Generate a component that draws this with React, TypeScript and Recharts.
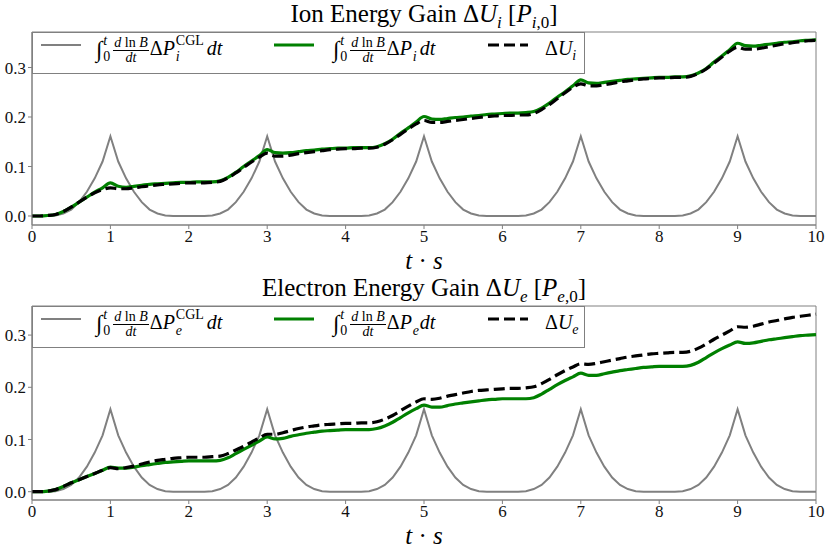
import React from "react";
import { LineChart, Line, XAxis, YAxis, ReferenceArea } from "recharts";

// time samples (t * s)
const times = [
  0, 0.1, 0.2, 0.3, 0.4, 0.5, 0.6, 0.7, 0.8, 0.9,
  1, 1.1, 1.2, 1.3, 1.4, 1.5, 1.6, 1.7, 1.8, 1.9,
  2, 2.1, 2.2, 2.3, 2.4, 2.5, 2.6, 2.7, 2.8, 2.9,
  3, 3.1, 3.2, 3.3, 3.4, 3.5, 3.6, 3.7, 3.8, 3.9,
  4, 4.1, 4.2, 4.3, 4.4, 4.5, 4.6, 4.7, 4.8, 4.9,
  5, 5.1, 5.2, 5.3, 5.4, 5.5, 5.6, 5.7, 5.8, 5.9,
  6, 6.1, 6.2, 6.3, 6.4, 6.5, 6.6, 6.7, 6.8, 6.9,
  7, 7.1, 7.2, 7.3, 7.4, 7.5, 7.6, 7.7, 7.8, 7.9,
  8, 8.1, 8.2, 8.3, 8.4, 8.5, 8.6, 8.7, 8.8, 8.9,
  9, 9.1, 9.2, 9.3, 9.4, 9.5, 9.6, 9.7, 9.8, 9.9,
  10,
];

// ion panel
const cglIon = [
  0, 0, 0, 0.001, 0.005, 0.013, 0.028, 0.049, 0.076, 0.11,
  0.161, 0.11, 0.076, 0.049, 0.028, 0.013, 0.005, 0.001, 0, 0,
  0, 0, 0, 0.001, 0.005, 0.013, 0.028, 0.049, 0.076, 0.11,
  0.161, 0.11, 0.076, 0.049, 0.028, 0.013, 0.005, 0.001, 0, 0,
  0, 0, 0, 0.001, 0.005, 0.013, 0.028, 0.049, 0.076, 0.11,
  0.161, 0.11, 0.076, 0.049, 0.028, 0.013, 0.005, 0.001, 0, 0,
  0, 0, 0, 0.001, 0.005, 0.013, 0.028, 0.049, 0.076, 0.11,
  0.161, 0.11, 0.076, 0.049, 0.028, 0.013, 0.005, 0.001, 0, 0,
  0, 0, 0, 0.001, 0.005, 0.013, 0.028, 0.049, 0.076, 0.11,
  0.161, 0.11, 0.076, 0.049, 0.028, 0.013, 0.005, 0.001, 0, 0,
  0,
];
const pIon = [
  0, 0, 0.001, 0.003, 0.009, 0.018, 0.028, 0.038, 0.048, 0.057,
  0.067, 0.06, 0.058, 0.06, 0.062, 0.064, 0.065, 0.066, 0.067, 0.068,
  0.068, 0.069, 0.069, 0.069, 0.071, 0.078, 0.088, 0.1, 0.111, 0.122,
  0.134, 0.128, 0.127, 0.128, 0.13, 0.132, 0.133, 0.135, 0.136, 0.137,
  0.137, 0.138, 0.138, 0.138, 0.14, 0.146, 0.155, 0.167, 0.178, 0.19,
  0.201, 0.196, 0.195, 0.197, 0.199, 0.2, 0.202, 0.203, 0.205, 0.206,
  0.207, 0.208, 0.208, 0.209, 0.211, 0.218, 0.228, 0.24, 0.251, 0.263,
  0.275, 0.269, 0.268, 0.27, 0.272, 0.274, 0.276, 0.277, 0.278, 0.279,
  0.28, 0.28, 0.281, 0.281, 0.283, 0.289, 0.298, 0.311, 0.323, 0.336,
  0.349, 0.344, 0.343, 0.345, 0.347, 0.349, 0.351, 0.352, 0.354, 0.355,
  0.356,
];
const uIon = [
  0, 0, 0.001, 0.003, 0.009, 0.018, 0.028, 0.038, 0.047, 0.053,
  0.057, 0.055, 0.055, 0.057, 0.059, 0.061, 0.063, 0.064, 0.065, 0.066,
  0.067, 0.067, 0.067, 0.068, 0.07, 0.077, 0.087, 0.098, 0.109, 0.119,
  0.127, 0.121, 0.121, 0.123, 0.126, 0.128, 0.13, 0.132, 0.134, 0.135,
  0.136, 0.136, 0.137, 0.137, 0.139, 0.145, 0.154, 0.165, 0.176, 0.186,
  0.193, 0.189, 0.189, 0.191, 0.193, 0.195, 0.197, 0.199, 0.201, 0.202,
  0.203, 0.203, 0.204, 0.204, 0.207, 0.215, 0.225, 0.237, 0.249, 0.26,
  0.267, 0.263, 0.263, 0.265, 0.268, 0.271, 0.273, 0.275, 0.277, 0.278,
  0.279, 0.279, 0.28, 0.28, 0.282, 0.288, 0.297, 0.309, 0.321, 0.333,
  0.341, 0.337, 0.337, 0.339, 0.342, 0.345, 0.348, 0.35, 0.352, 0.354,
  0.355,
];

// electron panel
const cglElectron = [
  0, 0, 0, 0.001, 0.005, 0.013, 0.027, 0.048, 0.075, 0.108,
  0.158, 0.108, 0.075, 0.048, 0.027, 0.013, 0.005, 0.001, 0, 0,
  0, 0, 0, 0.001, 0.005, 0.013, 0.027, 0.048, 0.075, 0.108,
  0.158, 0.108, 0.075, 0.048, 0.027, 0.013, 0.005, 0.001, 0, 0,
  0, 0, 0, 0.001, 0.005, 0.013, 0.027, 0.048, 0.075, 0.108,
  0.158, 0.108, 0.075, 0.048, 0.027, 0.013, 0.005, 0.001, 0, 0,
  0, 0, 0, 0.001, 0.005, 0.013, 0.027, 0.048, 0.075, 0.108,
  0.158, 0.108, 0.075, 0.048, 0.027, 0.013, 0.005, 0.001, 0, 0,
  0, 0, 0, 0.001, 0.005, 0.013, 0.027, 0.048, 0.075, 0.108,
  0.158, 0.108, 0.075, 0.048, 0.027, 0.013, 0.005, 0.001, 0, 0,
  0,
];
const pElectron = [
  0, 0, 0.001, 0.004, 0.01, 0.017, 0.023, 0.029, 0.035, 0.041,
  0.047, 0.045, 0.045, 0.047, 0.05, 0.052, 0.054, 0.056, 0.057, 0.058,
  0.059, 0.059, 0.059, 0.059, 0.06, 0.065, 0.073, 0.081, 0.089, 0.097,
  0.105, 0.101, 0.102, 0.106, 0.109, 0.112, 0.114, 0.116, 0.117, 0.118,
  0.119, 0.119, 0.119, 0.119, 0.121, 0.126, 0.133, 0.142, 0.151, 0.159,
  0.166, 0.162, 0.162, 0.165, 0.168, 0.17, 0.172, 0.174, 0.176, 0.177,
  0.178, 0.178, 0.178, 0.178, 0.18, 0.187, 0.196, 0.205, 0.213, 0.22,
  0.227, 0.223, 0.223, 0.226, 0.229, 0.232, 0.234, 0.236, 0.238, 0.239,
  0.24, 0.24, 0.24, 0.24, 0.242, 0.248, 0.257, 0.266, 0.274, 0.281,
  0.287, 0.284, 0.285, 0.288, 0.291, 0.293, 0.295, 0.297, 0.299, 0.3,
  0.301,
];
const uElectron = [
  0, 0, 0.001, 0.004, 0.01, 0.017, 0.023, 0.029, 0.035, 0.041,
  0.046, 0.044, 0.046, 0.049, 0.053, 0.057, 0.06, 0.062, 0.064, 0.065,
  0.066, 0.066, 0.066, 0.067, 0.068, 0.073, 0.08, 0.087, 0.095, 0.103,
  0.11, 0.11, 0.113, 0.117, 0.121, 0.124, 0.126, 0.128, 0.129, 0.13,
  0.131, 0.131, 0.132, 0.132, 0.134, 0.139, 0.146, 0.155, 0.164, 0.172,
  0.178, 0.177, 0.179, 0.183, 0.186, 0.189, 0.192, 0.194, 0.195, 0.196,
  0.197, 0.198, 0.198, 0.199, 0.201, 0.207, 0.215, 0.224, 0.232, 0.239,
  0.245, 0.244, 0.246, 0.249, 0.252, 0.255, 0.258, 0.26, 0.262, 0.264,
  0.265, 0.266, 0.267, 0.267, 0.269, 0.275, 0.283, 0.292, 0.3, 0.308,
  0.316, 0.315, 0.317, 0.321, 0.325, 0.328, 0.331, 0.334, 0.336, 0.338,
  0.34,
];

const xTicks = [0, 1, 2, 3, 4, 5, 6, 7, 8, 9, 10];
const yTicks = [0, 0.1, 0.2, 0.3];

const FONT = "'Liberation Serif', 'DejaVu Serif', serif";
const SPINE = "#808080";
const CGL_GRAY = "#808080";
const GREEN = "#008000";

const I = ({ children }: { children: React.ReactNode }) => (
  <span style={{ fontStyle: "italic" }}>{children}</span>
);

// a superscript stacked over a subscript, hung off the current baseline
const Scripts = ({
  sup,
  sub,
  width,
}: {
  sup: React.ReactNode;
  sub: React.ReactNode;
  width: number;
}) => (
  <span
    style={{
      position: "relative",
      display: "inline-block",
      width,
      height: 18,
      marginLeft: 1,
    }}
  >
    <span style={{ position: "absolute", left: 0, top: -3, fontSize: 14, lineHeight: "14px" }}>
      {sup}
    </span>
    <span style={{ position: "absolute", left: 0, top: 13, fontSize: 14, lineHeight: "14px" }}>
      {sub}
    </span>
  </span>
);

const Frac = ({ num, den }: { num: React.ReactNode; den: React.ReactNode }) => (
  <span
    style={{
      display: "inline-flex",
      flexDirection: "column",
      alignItems: "center",
      fontSize: 14,
      lineHeight: "12px",
      verticalAlign: 8,
      margin: "0 1px",
    }}
  >
    <span style={{ borderBottom: "1px solid #000", padding: "0 1px 1px" }}>{num}</span>
    <span style={{ paddingTop: 1 }}>{den}</span>
  </span>
);

const IntegralLabel = ({ species, cgl }: { species: string; cgl: boolean }) => (
  <span>
    <span style={{ fontSize: 23, verticalAlign: -2 }}>∫</span>
    <Scripts sup={<I>t</I>} sub="0" width={9} />
    <Frac
      num={
        <>
          <I>d</I> ln <I>B</I>
        </>
      }
      den={<I>dt</I>}
    />
    Δ<I>P</I>
    <Scripts sup={cgl ? "CGL" : ""} sub={<I>{species}</I>} width={cgl ? 31 : 7} />
    <I>dt</I>
  </span>
);

const Sample = ({ color, dash }: { color: string; dash?: string }) => (
  <svg width={42} height={8} style={{ position: "absolute", left: 0, top: -4 }}>
    <line
      x1={1}
      x2={41}
      y1={4}
      y2={4}
      stroke={color}
      strokeWidth={color === CGL_GRAY ? 2 : 3.2}
      strokeDasharray={dash}
    />
  </svg>
);

const XTick = (props: any) => (
  <text
    x={props.x}
    y={props.y}
    dy="0.66em"
    textAnchor="middle"
    fontFamily={FONT}
    fontSize={17}
    fill="#111"
  >
    {props.payload.value}
  </text>
);

const YTick = (props: any) => (
  <text
    x={props.x}
    y={props.y}
    dy="0.36em"
    textAnchor="end"
    fontFamily={FONT}
    fontSize={17}
    fill="#111"
  >
    {Number(props.payload.value).toFixed(1)}
  </text>
);

type PanelProps = {
  rows: { t: number; cgl: number; p: number; u: number }[];
  domain: [number, number];
  plotTop: number;
  plotBottom: number;
  title: React.ReactNode;
  titleSize: number;
  species: string;
};

const Panel = ({ rows, domain, plotTop, plotBottom, title, titleSize, species }: PanelProps) => {
  const labelStyle = {
    position: "absolute" as const,
    whiteSpace: "nowrap" as const,
    lineHeight: "24px",
  };
  return (
    <div style={{ position: "relative", width: 830, height: 276 }}>
      <LineChart
        width={830}
        height={276}
        data={rows}
        margin={{ top: plotTop, right: 14, bottom: 276 - plotBottom - 24, left: 2 }}
      >
        <XAxis
          dataKey="t"
          type="number"
          domain={[0, 10]}
          ticks={xTicks}
          height={24}
          stroke={SPINE}
          tickSize={4}
          tickMargin={2}
          tick={<XTick />}
        />
        <YAxis
          type="number"
          domain={domain}
          ticks={yTicks}
          allowDataOverflow
          width={30}
          stroke={SPINE}
          tickSize={4}
          tickMargin={2}
          tick={<YTick />}
        />
        <ReferenceArea
          x1={0}
          x2={10}
          y1={domain[0]}
          y2={domain[1]}
          fill="none"
          stroke={SPINE}
          strokeWidth={1}
          ifOverflow="visible"
        />
        <Line
          dataKey="cgl"
          type="linear"
          stroke={CGL_GRAY}
          strokeWidth={2}
          dot={false}
          isAnimationActive={false}
        />
        <Line
          dataKey="p"
          type="monotone"
          stroke={GREEN}
          strokeWidth={3.2}
          dot={false}
          isAnimationActive={false}
        />
        <Line
          dataKey="u"
          type="monotone"
          stroke="#000"
          strokeWidth={3.2}
          strokeDasharray="11 5"
          dot={false}
          isAnimationActive={false}
        />
      </LineChart>

      <div
        style={{
          position: "absolute",
          left: 32,
          width: 784,
          top: plotTop - 32,
          textAlign: "center",
          fontSize: titleSize,
          lineHeight: "28px",
        }}
      >
        {title}
      </div>

      <div
        style={{
          position: "absolute",
          left: 32,
          top: plotTop,
          width: 553,
          height: 42,
          boxSizing: "border-box",
          border: `1px solid ${SPINE}`,
          background: "#fff",
          fontSize: 20,
        }}
      >
        <div style={{ position: "absolute", left: 7, top: 12 }}>
          <Sample color={CGL_GRAY} />
        </div>
        <div style={{ ...labelStyle, left: 63, top: 3 }}>
          <IntegralLabel species={species} cgl />
        </div>
        <div style={{ position: "absolute", left: 240, top: 12 }}>
          <Sample color={GREEN} />
        </div>
        <div style={{ ...labelStyle, left: 300, top: 3 }}>
          <IntegralLabel species={species} cgl={false} />
        </div>
        <div style={{ position: "absolute", left: 454, top: 12 }}>
          <Sample color="#000" dash="11 5" />
        </div>
        <div style={{ ...labelStyle, left: 512, top: 3 }}>
          Δ<I>U</I>
          <sub style={{ fontSize: 14 }}>
            <I>{species}</I>
          </sub>
        </div>
      </div>

      <div
        style={{
          position: "absolute",
          left: 32,
          width: 784,
          top: plotBottom + 26,
          textAlign: "center",
          fontSize: 25,
          lineHeight: "20px",
        }}
      >
        <I>t</I> · <I>s</I>
      </div>
    </div>
  );
};

const ionRows = times.map((t, i) => ({ t, cgl: cglIon[i], p: pIon[i], u: uIon[i] }));
const electronRows = times.map((t, i) => ({
  t,
  cgl: cglElectron[i],
  p: pElectron[i],
  u: uElectron[i],
}));

export default function App() {
  return (
    <div
      style={{
        position: "absolute",
        left: 0,
        top: 0,
        width: 830,
        height: 552,
        background: "#fff",
        overflow: "hidden",
        fontFamily: FONT,
        color: "#000",
      }}
    >
      <Panel
        rows={ionRows}
        domain={[-0.0182, 0.3717]}
        plotTop={32}
        plotBottom={225}
        species="i"
        titleSize={25}
        title={
          <>
            Ion Energy Gain Δ<I>U</I>
            <sub style={{ fontSize: 17 }}>
              <I>i</I>
            </sub>{" "}
            [<I>P</I>
            <sub style={{ fontSize: 17 }}>
              <I>i</I>,0
            </sub>
            ]
          </>
        }
      />
      <Panel
        rows={electronRows}
        domain={[-0.0159, 0.3557]}
        plotTop={30}
        plotBottom={224}
        species="e"
        titleSize={25}
        title={
          <>
            Electron Energy Gain Δ<I>U</I>
            <sub style={{ fontSize: 17 }}>
              <I>e</I>
            </sub>{" "}
            [<I>P</I>
            <sub style={{ fontSize: 17 }}>
              <I>e</I>,0
            </sub>
            ]
          </>
        }
      />
    </div>
  );
}
